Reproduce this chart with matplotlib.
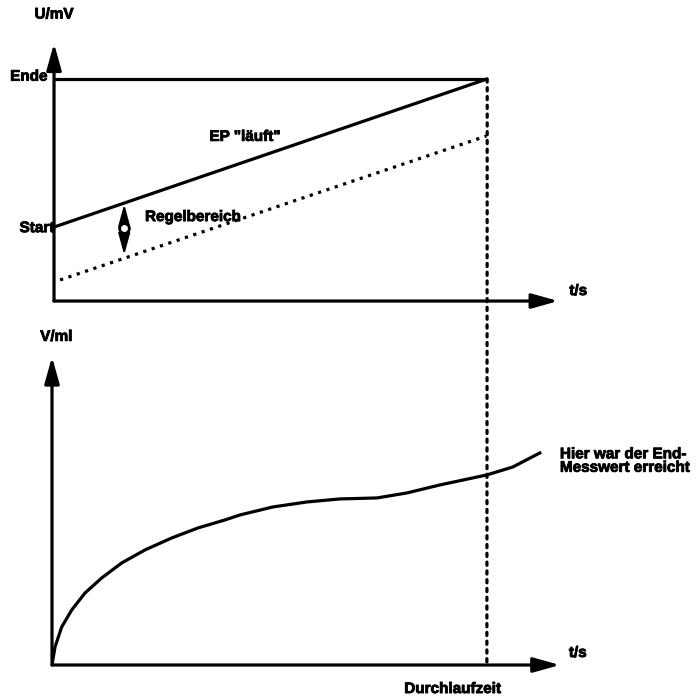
import matplotlib
matplotlib.use("Agg")
import matplotlib.pyplot as plt
import matplotlib.patheffects as pe
import numpy as np
from matplotlib.patches import ConnectionPatch

plt.rcParams['font.family'] = ['Liberation Sans', 'DejaVu Sans']
plt.rcParams['font.weight'] = 'bold'
plt.rcParams['font.size'] = 11

# top panel: electrode potential, t in units where 10 = Durchlaufzeit
t_end = 10.0
u_start = 3.33
u_ende = 10.0
ep_t = [0.0, 10.0]
ep_u = [3.33, 10.0]
regel_t = [0.14, 9.98]
regel_u = [0.95, 7.43]
regel_at = 1.62  # where the Regelbereich arrow sits

# bottom panel: volume vs time
vol_t = [0.0, 0.069, 0.223, 0.453, 0.759, 1.143, 1.602, 2.138, 2.752, 3.356,
         3.977, 4.322, 5.08, 5.862, 6.621, 7.471, 8.161, 8.92, 10.0, 10.6, 11.218]
vol_v = [0.0, 0.584, 1.234, 1.786, 2.338, 2.825, 3.312, 3.734, 4.123, 4.448,
         4.708, 4.87, 5.13, 5.292, 5.39, 5.422, 5.584, 5.844, 6.169, 6.429, 6.883]

fig = plt.figure(figsize=(6.98, 6.97), dpi=100)
ax1 = fig.add_axes([0.0774, 0.5681, 0.782, 0.3888])
ax2 = fig.add_axes([0.0745, 0.0459, 0.785, 0.4562])
ax1.set_xlim(0, 12.6)
ax1.set_ylim(0, 12.2)
ax2.set_xlim(0, 12.6)
ax2.set_ylim(0, 10.32)
for ax in (ax1, ax2):
    ax.axis('off')

lw = 2.3
dots = (0, (1, 1.75))
arrow_kw = dict(arrowstyle='-|>,head_length=1.0,head_width=0.28', color='black',
                lw=lw, mutation_scale=16, shrinkA=0, shrinkB=0)

# axes arrows
ax1.annotate('', xy=(0, 11.6), xytext=(0, 0), arrowprops=arrow_kw)
ax1.annotate('', xy=(11.64, 0), xytext=(0, 0), arrowprops=arrow_kw)
ax2.annotate('', xy=(0, 10.0), xytext=(0, 0), arrowprops=arrow_kw)
ax2.annotate('', xy=(11.68, 0), xytext=(0, 0), arrowprops=arrow_kw)

# top panel lines
ax1.plot([0, t_end], [u_ende, u_ende], color='black', lw=lw, solid_capstyle='butt')
ax1.plot(ep_t, ep_u, color='black', lw=lw, solid_capstyle='butt')
ax1.plot(regel_t, regel_u, color='black', lw=lw, linestyle=dots)

# Regelbereich double arrow
y_hi = np.interp(regel_at, ep_t, ep_u)
y_lo = np.interp(regel_at, regel_t, regel_u)
ax1.annotate('', xy=(regel_at, y_lo + 0.15), xytext=(regel_at, y_hi - 0.05),
             arrowprops=dict(arrowstyle='<|-|>,head_length=1.1,head_width=0.3',
                             color='black', lw=1.5, mutation_scale=12, shrinkA=0, shrinkB=0))
ax1.plot([regel_at], [(y_hi + y_lo) / 2 + 0.1], marker='o', ms=7, mfc='white',
         mec='black', mew=2, zorder=5)

# bottom curve
ax2.plot(vol_t, vol_v, color='black', lw=lw, solid_joinstyle='round')

# vertical dotted line connecting both panels
con = ConnectionPatch(xyA=(t_end, u_ende), coordsA=ax1.transData,
                      xyB=(t_end, 0), coordsB=ax2.transData,
                      color='black', lw=lw, linestyle=dots)
fig.add_artist(con)

# labels
bold = [pe.withStroke(linewidth=0.6, foreground='black')]
ax1.text(0, 12.9, 'U/mV', ha='center', va='center', path_effects=bold)
ax1.text(-0.15, u_ende + 0.1, 'Ende', ha='right', va='center', path_effects=bold)
ax1.text(0.0, u_start - 0.05, 'Start', ha='right', va='center', path_effects=bold)
ax1.text(4.41, 7.39, 'EP "läuft"', ha='center', va='center', path_effects=bold)
ax1.text(2.1, 3.78, 'Regelbereich', ha='left', va='center', path_effects=bold)
ax1.text(12.1, 0.45, 't/s', ha='center', va='center', path_effects=bold)

ax2.text(0.1, 10.65, 'V/ml', ha='center', va='center', path_effects=bold)
ax2.text(12.09, 0.39, 't/s', ha='center', va='center', path_effects=bold)
ax2.text(9.22, -0.78, 'Durchlaufzeit', ha='center', va='center', path_effects=bold)
ax2.text(11.68, 6.62, 'Hier war der End-\nMesswert erreicht', ha='left', va='center',
         linespacing=0.95, path_effects=bold)

fig.savefig('out.png', dpi=100)
